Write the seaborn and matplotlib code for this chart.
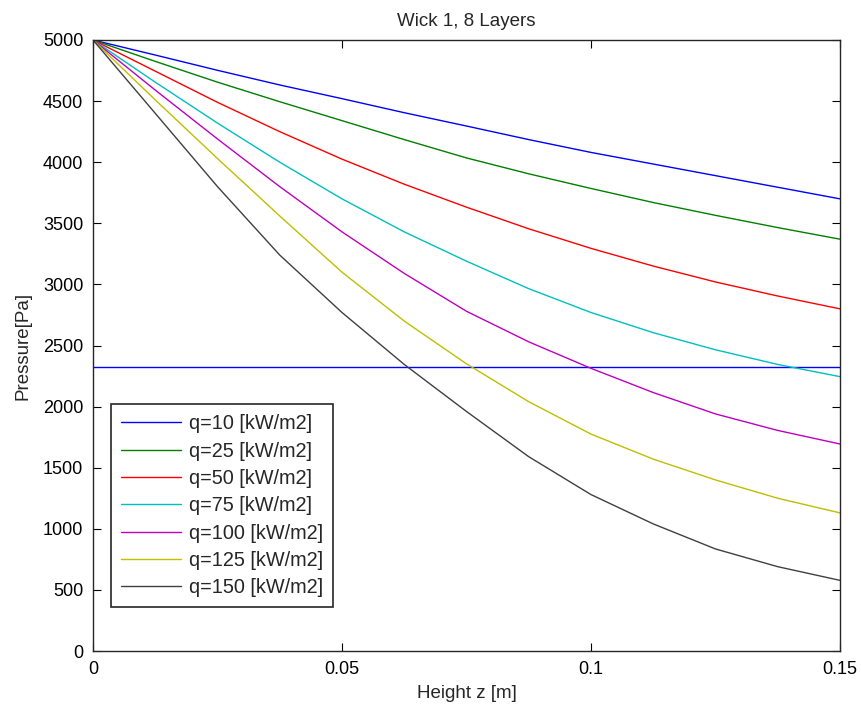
import numpy as np
import pandas as pd
import seaborn as sns
import matplotlib
matplotlib.use("Agg")
import matplotlib.pyplot as plt

# Height z [m]
z = [0.0, 0.0125, 0.025, 0.0375, 0.05, 0.0625, 0.075, 0.0875, 0.1, 0.1125, 0.125, 0.1375, 0.15]

# Pressure [Pa] per heat flux
p_q10  = [5000, 4877, 4752, 4632, 4520, 4405, 4296, 4185, 4080, 3985, 3890, 3795, 3700]
p_q25  = [5000, 4825, 4655, 4495, 4340, 4185, 4035, 3905, 3785, 3670, 3565, 3465, 3370]
p_q50  = [5000, 4745, 4490, 4250, 4025, 3820, 3632, 3455, 3295, 3150, 3020, 2905, 2800]
p_q75  = [5000, 4655, 4320, 4000, 3700, 3430, 3190, 2965, 2770, 2605, 2465, 2345, 2245]
p_q100 = [5000, 4590, 4190, 3800, 3430, 3090, 2780, 2530, 2313, 2115, 1940, 1805, 1694]
p_q125 = [5000, 4510, 4030, 3560, 3100, 2700, 2350, 2040, 1775, 1570, 1400, 1250, 1130]
p_q150 = [5000, 4400, 3800, 3240, 2770, 2345, 1960, 1590, 1280, 1040, 835, 690, 578]

labels = ["q=10 [kW/m2]", "q=25 [kW/m2]", "q=50 [kW/m2]", "q=75 [kW/m2]",
          "q=100 [kW/m2]", "q=125 [kW/m2]", "q=150 [kW/m2]"]
series = [p_q10, p_q25, p_q50, p_q75, p_q100, p_q125, p_q150]

limit_pressure = 2320

x_ticks = [0, 0.05, 0.1, 0.15]
x_tick_labels = ["0", "0.05", "0.1", "0.15"]
y_ticks = [0, 500, 1000, 1500, 2000, 2500, 3000, 3500, 4000, 4500, 5000]

colors = [(0, 0, 1), (0, 0.5, 0), (1, 0, 0), (0, 0.75, 0.75),
          (0.75, 0, 0.75), (0.75, 0.75, 0), (0.25, 0.25, 0.25)]

rows = []
for lab, vals in zip(labels, series):
    for zz, pp in zip(z, vals):
        rows.append({"z": zz, "p": pp, "q": lab})
df = pd.DataFrame(rows)

sns.set_style("white")
plt.rcParams["font.family"] = ["Liberation Sans", "DejaVu Sans"]
plt.rcParams["font.size"] = 13

fig = plt.figure(figsize=(8.61, 7.11), dpi=100)
ax = fig.add_axes([93 / 861, 1 - 651 / 711, (840 - 93) / 861, (651 - 40) / 711])

sns.lineplot(data=df, x="z", y="p", hue="q", hue_order=labels,
             palette=colors, linewidth=1.0, ax=ax, sort=False,
             estimator=None)

ax.axhline(limit_pressure, color=(0, 0, 1), linewidth=1.0, zorder=1)

ax.set_xlim(0, 0.15)
ax.set_ylim(0, 5000)
ax.set_xticks(x_ticks)
ax.set_xticklabels(x_tick_labels)
ax.set_yticks(y_ticks)
ax.tick_params(direction="in", length=6, width=0.8, top=True, right=True,
               bottom=True, left=True, labelsize=13, pad=7, colors="black")
for s in ax.spines.values():
    s.set_visible(True)
    s.set_color("#262626")
    s.set_linewidth(1.0)

ax.set_xlabel("Height z [m]", fontsize=13.5, labelpad=5)
ax.set_ylabel("Pressure[Pa]", fontsize=13.5, labelpad=8)
ax.set_title("Wick 1, 8 Layers", fontsize=13.5, pad=10)

handles, labs = ax.get_legend_handles_labels()
leg = ax.legend(handles, labs, loc="lower left",
                bbox_to_anchor=((110.7 - 93) / 747, (651 - 607.3) / 611),
                frameon=True, fancybox=False, framealpha=1, edgecolor="#262626",
                handlelength=3.05, labelspacing=0.42, borderpad=0.5,
                handletextpad=0.4, fontsize=14.3, borderaxespad=0)
leg.get_frame().set_linewidth(1.2)

fig.savefig("out.png", dpi=100, facecolor="white")
